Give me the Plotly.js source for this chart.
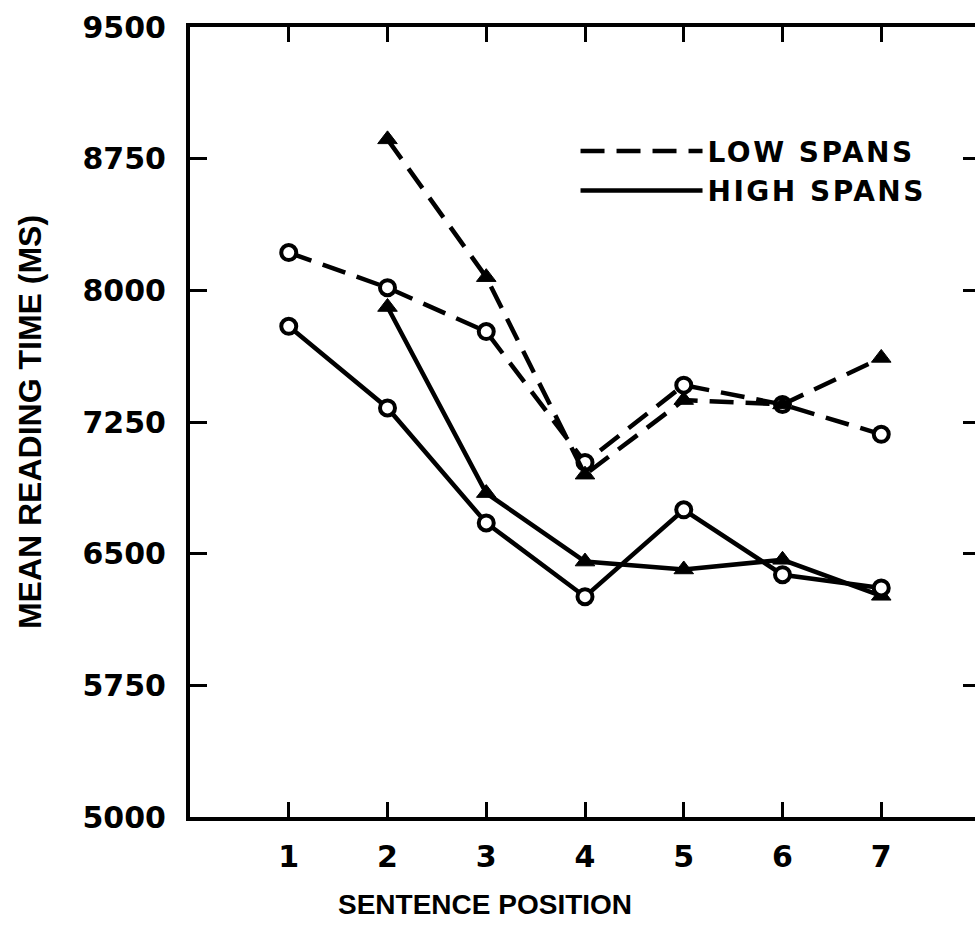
<!DOCTYPE html>
<html>
<head>
<meta charset="utf-8">
<script src="https://cdn.plot.ly/plotly-3.0.1.min.js"></script>
<style>
html, body { margin: 0; padding: 0; overflow: hidden; background: #fff; }
#chart { width: 985px; height: 947px; }
.legendtext { letter-spacing: 2.5px; }
</style>
</head>
<body>
<div id="chart"></div>
<script>
// Sentence positions (x categories)
const positions = [1, 2, 3, 4, 5, 6, 7];
// Low spans (dashed lines)
const lowSpansCircle = [8215, 8015, 7765, 7020, 7460, 7350, 7180];
const lowSpansTriangle = [null, 8860, 8075, 6950, 7375, 7350, 7615];
// High spans (solid lines)
const highSpansCircle = [7795, 7330, 6675, 6255, 6750, 6380, 6305];
const highSpansTriangle = [null, 7905, 6845, 6455, 6410, 6465, 6260];
// Axis ticks
const yTickVals = [5000, 5750, 6500, 7250, 8000, 8750, 9500];
const xTickVals = [1, 2, 3, 4, 5, 6, 7];
const legendLabels = ['LOW SPANS', 'HIGH SPANS'];
const xTitle = 'SENTENCE POSITION';
const yTitle = 'MEAN READING TIME (MS)';

const ink = '#000';
const lineW = 4.5;
const dashStyle = '24px,12px';

function series(y, dash, symbol) {
  const open = symbol === 'circle';
  return {
    x: positions, y: y, type: 'scatter', mode: 'lines+markers',
    showlegend: false, connectgaps: false,
    line: { color: ink, width: lineW, dash: dash },
    marker: {
      symbol: symbol, size: open ? 15 : 17,
      color: open ? '#fff' : ink,
      line: { color: ink, width: open ? 4 : 1 }
    },
    hoverinfo: 'skip'
  };
}

const traces = [
  series(lowSpansCircle, dashStyle, 'circle'),
  series(lowSpansTriangle, dashStyle, 'triangle-up'),
  series(highSpansTriangle, 'solid', 'triangle-up'),
  series(highSpansCircle, 'solid', 'circle'),
  { x: [null], y: [null], type: 'scatter', mode: 'lines', name: legendLabels[0],
    line: { color: ink, width: lineW, dash: dashStyle } },
  { x: [null], y: [null], type: 'scatter', mode: 'lines', name: legendLabels[1],
    line: { color: ink, width: lineW, dash: 'solid' } }
];

const tickFont = { family: 'DejaVu Sans, Liberation Sans, Arial, sans-serif', size: 30, color: ink, weight: 'bold' };
const titleFont = { family: 'Liberation Sans, Arial, sans-serif', size: 32, color: ink, weight: 'bold' };

const layout = {
  width: 985, height: 947,
  margin: { l: 190, r: 5, t: 27, b: 130 },
  paper_bgcolor: '#fff', plot_bgcolor: '#fff',
  showlegend: true,
  legend: {
    x: 0.488, y: 0.818, xanchor: 'left', yanchor: 'middle',
    font: { family: 'DejaVu Sans, Liberation Sans, Arial, sans-serif', size: 28, color: ink, weight: 'bold' },
    itemwidth: 122, tracegroupgap: 0, bgcolor: 'rgba(0,0,0,0)',
    borderwidth: 0
  },
  xaxis: {
    range: [0, 8], tickvals: xTickVals, ticktext: xTickVals.map(String),
    showgrid: false, zeroline: false,
    showline: true, linecolor: ink, linewidth: 4, mirror: 'allticks',
    ticks: 'inside', ticklen: 15, tickwidth: 3, tickcolor: ink,
    tickfont: tickFont, ticklabelstandoff: 10
  },
  yaxis: {
    range: [5000, 9500], tickvals: yTickVals, ticktext: yTickVals.map(String),
    showgrid: false, zeroline: false,
    showline: true, linecolor: ink, linewidth: 4, mirror: 'allticks',
    ticks: 'inside', ticklen: 17, tickwidth: 3, tickcolor: ink,
    tickfont: tickFont, ticklabelstandoff: 14,
    title: { text: yTitle, font: titleFont, standoff: 32 }
  },
  annotations: [{
    text: xTitle, xref: 'paper', yref: 'paper',
    x: 0.373, y: -0.111, xanchor: 'center', yanchor: 'middle',
    showarrow: false,
    font: { family: 'Liberation Sans, Arial, sans-serif', size: 28, color: ink, weight: 'bold' }
  }]
};

Plotly.newPlot('chart', traces, layout, { staticPlot: true, displayModeBar: false, responsive: false });
</script>
</body>
</html>
